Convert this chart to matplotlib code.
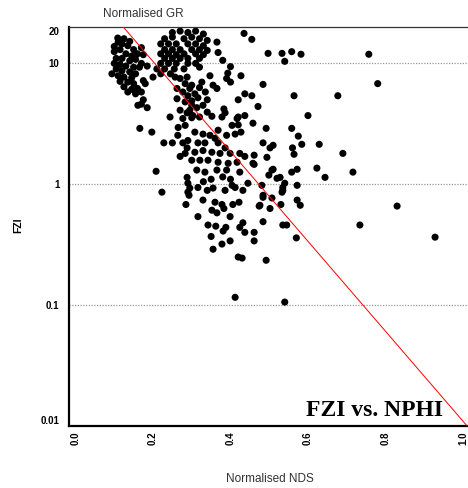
import numpy as np
import matplotlib; matplotlib.use("Agg")
import matplotlib.pyplot as plt

left_cloud = [(0.109,16.2),(0.12,14.5),(0.135,14),(0.15,13),(0.115,13),(0.10,12.5),(0.13,12),(0.145,11.5),
              (0.16,12),(0.105,11),(0.12,11),(0.14,10.5),(0.155,10.8),(0.17,10),(0.10,10),(0.115,9.8),
              (0.13,9.5),(0.15,9.3),(0.165,9.3),(0.105,9),(0.12,8.7),(0.14,8.5),(0.155,8.2),(0.094,8.2),
              (0.11,7.9),(0.125,7.7),(0.145,7.6),(0.115,7.1),(0.135,7.0),(0.15,6.8),(0.18,6.8),(0.125,6.4),
              (0.145,6.1),(0.16,6.2),(0.135,5.8),(0.155,5.6),(0.17,5.8),(0.161,4.5),(0.185,4.3),(0.20,7.7),
              (0.175,7.2),(0.11,15),(0.125,16),(0.14,15.2),(0.10,13.8),(0.17,13.5),(0.175,11.8),(0.185,9.5),
              (0.175,5.0),(0.17,4.6)]
top_cloud = [(0.25,18),(0.27,18.5),(0.29,18),(0.31,18.5),(0.33,17.5),
             (0.23,16),(0.25,16.5),(0.28,16),(0.30,16.5),(0.32,16),(0.34,15.5),
             (0.22,14.5),(0.24,14.5),(0.26,14.5),(0.29,14.5),(0.31,14.5),(0.33,14),
             (0.23,13),(0.25,13),(0.27,13),(0.30,13),(0.32,13),(0.34,12.8),
             (0.22,12),(0.24,12),(0.26,11.8),(0.28,12),(0.31,12),(0.33,11.8),
             (0.23,11),(0.25,11),(0.27,11),(0.29,11),(0.32,11),
             (0.22,10),(0.24,10),(0.26,10),(0.29,10),(0.31,10),
             (0.21,9),(0.23,9),(0.255,9),(0.28,9),(0.32,9.3),(0.22,8.2),(0.245,8.2),
             (0.365,15),(0.368,12.3),(0.38,10.6),(0.435,17.7),(0.455,15.8),(0.40,9.4),(0.393,8.3)]
upper_band = [(0.257,7.7),(0.27,7.5),(0.283,6.8),(0.30,6.6),(0.262,6.2),(0.277,5.8),(0.29,5.4),(0.262,5.1),
              (0.283,4.8),(0.30,4.5),(0.27,4.1),(0.288,3.9),(0.303,3.7),(0.288,7.7),(0.295,6.2),(0.308,5.6),
              (0.326,7.0),(0.30,4.9),(0.316,5.2),(0.329,4.5),(0.313,4.3),(0.34,3.95),(0.295,4.1),(0.347,7.9),
              (0.355,6.6),(0.365,6.2),(0.39,7.5),(0.40,7.0),(0.427,7.9),(0.42,5.0),(0.437,5.6),(0.383,4.2),
              (0.437,3.7),(0.42,3.6),(0.471,4.4),(0.484,6.7),(0.455,5.4),(0.335,5.8),(0.32,6.3),(0.34,5.0)]
mid_cloud = [(0.244,3.6),(0.277,3.5),(0.30,3.55),(0.265,2.95),(0.283,3.07),(0.264,2.54),(0.277,2.2),(0.288,2.0),
             (0.283,1.8),(0.27,1.7),(0.30,1.58),(0.29,1.02),(0.295,0.93),(0.293,0.81),(0.166,2.9),(0.197,2.7),
             (0.228,2.2),(0.25,2.2),(0.208,1.28),(0.223,0.86),(0.32,3.6),(0.352,3.65),(0.378,3.6),(0.386,3.9),
             (0.417,3.5),(0.404,3.07),(0.42,3.1),(0.458,3.2),(0.368,2.8),(0.39,2.54),(0.412,2.6),(0.308,2.7),
             (0.329,2.6),(0.347,2.54),(0.36,2.4),(0.29,2.3),(0.316,2.2),(0.334,2.2),(0.368,2.2),(0.386,2.0),
             (0.308,1.84),(0.329,1.9),(0.352,1.84),(0.373,1.8),(0.399,1.8),(0.424,1.8),(0.321,1.58),(0.342,1.58),
             (0.368,1.52),(0.394,1.49),(0.417,1.52),(0.458,1.49),(0.313,1.31),(0.334,1.26),(0.365,1.31),(0.39,1.31),
             (0.424,1.26),(0.288,1.14),(0.316,0.94),(0.34,0.89),(0.355,0.93),(0.386,0.89),(0.412,0.94),(0.29,0.86),
             (0.427,2.7),(0.437,1.7),(0.445,1.02),(0.432,0.89),(0.404,0.98),(0.35,1.1),(0.38,1.15),(0.40,1.1),(0.33,1.05)]
low_cloud = [(0.285,0.68),(0.329,0.74),(0.36,0.71),(0.378,0.68),(0.383,0.63),(0.352,0.61),(0.365,0.58),(0.406,0.68),
             (0.422,0.71),(0.399,0.54),(0.316,0.54),(0.342,0.46),(0.362,0.45),(0.388,0.44),(0.381,0.41),(0.432,0.48),
             (0.424,0.44),(0.437,0.40),(0.461,0.40),(0.461,0.34),(0.484,0.49),(0.35,0.37),(0.399,0.34),(0.378,0.32),
             (0.355,0.29),(0.42,0.25),(0.43,0.245),(0.492,0.235),(0.412,0.116),(0.476,0.67),(0.502,0.63),(0.484,0.78)]
right_sparse = [(0.497,12.1),(0.533,12.1),(0.558,12.5),(0.582,11.9),(0.54,10.4),(0.757,11.9),(0.78,6.8),(0.564,5.4),
                (0.677,5.4),(0.60,3.7),(0.492,2.9),(0.558,2.9),(0.575,2.5),(0.584,2.14),(0.56,2.0),(0.564,1.77),
                (0.629,2.14),(0.69,1.8),(0.716,1.26),(0.644,1.14),(0.623,1.36),(0.572,1.33),(0.558,1.26),(0.484,2.2),
                (0.502,2.0),(0.51,2.1),(0.494,1.67),(0.461,1.74),(0.461,1.46),(0.51,1.33),(0.499,1.19),(0.52,1.12),
                (0.54,1.02),(0.535,0.94),(0.533,0.86),(0.572,0.98),(0.481,0.98),(0.484,0.81),(0.507,0.77),(0.53,0.68),
                (0.572,0.74),(0.58,0.67),(0.474,0.66),(0.535,0.46),(0.545,0.46),(0.57,0.36),(0.83,0.66),(0.734,0.46),
                (0.928,0.365),(0.54,0.106),(0.507,1.31),(0.528,1.14),(0.535,0.89)]

# trend line log10(FZI) = a + b*NDS
trend_a, trend_b = 1.76, -3.72
yticks = [0.01, 0.1, 1, 10, 20]; yticklabels = ["0.01", "0.1", "1", "10", "20"]
xticks = [0.0, 0.2, 0.4, 0.6, 0.8, 1.0]

pts = np.array(left_cloud + top_cloud + upper_band + mid_cloud + low_cloud + right_sparse)

plt.rcParams.update({"font.family": ["Liberation Sans", "DejaVu Sans"]})
fig = plt.figure(figsize=(4.68, 4.88), dpi=100)
ax = fig.add_axes([69/468, 1-426/488, 399/468, 399/488])
ax.set_yscale("log")
ax.set_xlim(-0.0168, 1.013); ax.set_ylim(0.01, 20)

for g in [0.1, 1, 10]:
    ax.axhline(g, color="#999999", lw=0.9, ls=(0, (1, 1.2)), zorder=0)
ax.scatter(pts[:, 0], pts[:, 1], s=26, color="black", edgecolor="none", zorder=2)
xs = np.linspace(0, 1.05, 50)
ax.plot(xs, 10**(trend_a + trend_b*xs), color="red", lw=0.7, zorder=3)

ax.set_xticks(xticks); ax.set_xticklabels([f"{v:.1f}" for v in xticks], rotation=90, fontsize=7, fontweight="bold")
ax.set_yticks(yticks); ax.set_yticklabels(yticklabels, fontsize=7, fontweight="bold")
ax.yaxis.set_minor_locator(matplotlib.ticker.NullLocator())
ax.tick_params(length=0, pad=4)
ax.tick_params(axis="y", pad=7)
labs = ax.get_yticklabels()
labs[-1].set_va("top"); labs[0].set_va("bottom")
for s in ["left", "bottom"]:
    ax.spines[s].set_linewidth(1.6)
ax.spines["top"].set_linewidth(0.9); ax.spines["top"].set_color("#333333")
ax.spines["right"].set_visible(False)

fig.text(143/468, 1-14/488, "Normalised GR", ha="center", va="center", fontsize=8.5, color="#333333")
fig.text(270/468, 1-479/488, "Normalised NDS", ha="center", va="center", fontsize=8.5, color="#333333")
fig.text(18/468, 1-225/488, "FZI", ha="center", va="center", rotation=90, fontsize=7.5, fontweight="bold")
ax.text(0.937, 0.04, "FZI vs. NPHI", transform=ax.transAxes, ha="right", va="center",
        family=["Liberation Serif", "DejaVu Serif"], fontweight="bold", fontsize=17)

fig.savefig("out.png", dpi=100)
